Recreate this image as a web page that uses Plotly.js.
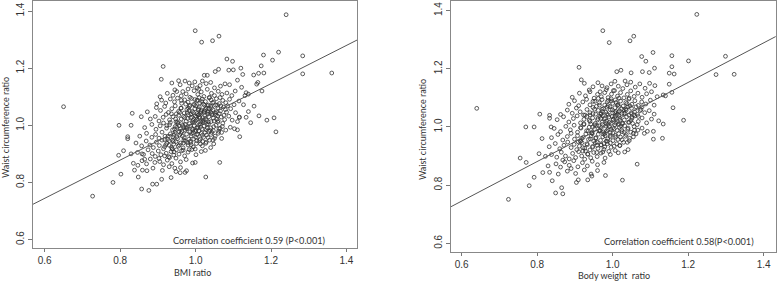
<!DOCTYPE html>
<html>
<head>
<meta charset="utf-8">
<script src="https://cdn.plot.ly/plotly-3.0.1.min.js"></script>
<style>html,body{margin:0;padding:0;background:#fff;}#chart{width:777px;height:281px;}</style>
</head>
<body>
<div id="chart"></div>
<script>
// Panel A: BMI ratio vs waist circumference ratio  [x, y]
const bmiPoints = [
[1.240,1.387],[0.999,1.331],[1.016,1.291],[1.045,1.296],[1.062,1.312],[0.914,1.206],[0.909,1.161],[1.083,1.232],[1.098,1.224],
[1.220,1.256],[1.180,1.246],[1.204,1.228],[1.284,1.243],[1.284,1.180],[1.361,1.183],[1.174,1.208],[1.181,1.183],[1.167,1.182],
[1.154,1.176],[1.120,1.200],[1.125,1.178],[1.100,1.194],[1.088,1.193],[1.061,1.196],[1.052,1.188],[1.023,1.175],[1.031,1.175],
[0.650,1.065],[0.727,0.752],[0.781,0.800],[0.797,1.000],[0.829,1.000],[0.832,1.042],[0.856,1.030],[0.820,0.960],[0.820,0.953],
[0.796,0.895],[0.809,0.911],[0.802,0.829],[0.829,0.900],[0.835,0.867],[0.838,0.843],[0.847,0.860],[0.848,0.819],[0.857,0.777],
[0.876,0.772],[0.886,0.794],[0.859,0.843],[0.871,0.841],[0.865,0.881],[0.858,0.900],[1.213,0.977],[1.208,1.026],[1.189,1.018],
[1.155,1.067],[1.168,1.033],[1.146,1.009],[1.140,1.048],[1.134,1.028],[1.117,0.960],[1.111,0.984],[1.111,1.013],[1.127,1.072],
[1.140,1.109],[1.134,1.114],[1.162,1.144],[1.176,1.120],[1.165,1.150],[1.103,0.988],[1.116,1.029],[1.069,0.954],[1.064,0.870],
[1.027,0.819],[0.999,0.870],[0.972,0.835],[0.910,0.811],[0.935,0.817],[0.959,0.834],[0.897,0.794],
[0.937,1.148],[0.959,1.142],[0.972,1.155],[0.955,1.156],[0.983,1.148],[0.998,1.152],[1.012,1.139],[1.028,1.146],[1.040,1.150],
[1.050,1.131],[1.066,1.137],[1.078,1.145],[1.090,1.142],[1.111,1.158],[1.122,1.133],[1.018,1.155],[0.991,1.138],[1.004,1.131],
[0.945,1.124],[0.980,1.127],[0.966,1.118],
[0.906,1.100],[0.925,1.112],[0.940,1.105],[0.950,1.118],[0.962,1.103],[0.975,1.110],[0.985,1.098],[0.996,1.121],[1.006,1.108],
[1.015,1.117],[1.022,1.101],[1.031,1.126],[1.042,1.112],[1.050,1.104],[1.060,1.119],[1.070,1.108],[1.083,1.113],[1.096,1.104],
[1.105,1.120],[1.131,1.104],[1.008,1.126],[1.037,1.098],[1.065,1.097],
[0.897,1.075],[0.910,1.088],[0.921,1.078],[0.933,1.092],[0.944,1.082],[0.952,1.095],[0.963,1.077],[0.971,1.089],[0.980,1.081],
[0.989,1.094],[0.995,1.073],[1.003,1.086],[1.011,1.078],[1.018,1.092],[1.026,1.083],[1.034,1.071],[1.041,1.089],[1.048,1.080],
[1.055,1.093],[1.063,1.076],[1.072,1.087],[1.080,1.079],[1.090,1.091],[1.102,1.072],[1.115,1.085],[1.036,1.096],[1.009,1.097],
[0.985,1.070],[1.058,1.070],
[0.872,1.047],[0.896,1.062],[0.907,1.052],[0.918,1.066],[0.928,1.045],[0.937,1.058],[0.946,1.068],[0.955,1.049],[0.962,1.060],
[0.970,1.043],[0.977,1.056],[0.984,1.066],[0.991,1.048],[0.998,1.058],[1.004,1.041],[1.010,1.064],[1.016,1.052],[1.022,1.045],
[1.028,1.060],[1.034,1.049],[1.040,1.067],[1.046,1.055],[1.052,1.042],[1.059,1.061],[1.066,1.050],[1.074,1.064],[1.082,1.046],
[1.093,1.058],[1.106,1.044],[1.000,1.068],[1.013,1.043],[1.031,1.069],[0.988,1.040],[1.043,1.041],[1.025,1.055],[1.007,1.054],
[0.880,1.022],[0.893,1.031],[0.903,1.015],[0.914,1.028],[0.922,1.038],[0.931,1.019],[0.940,1.030],[0.948,1.012],[0.955,1.035],
[0.962,1.022],[0.968,1.031],[0.975,1.014],[0.981,1.037],[0.987,1.026],[0.993,1.017],[0.999,1.033],[1.004,1.021],[1.009,1.038],
[1.014,1.012],[1.019,1.027],[1.024,1.035],[1.029,1.018],[1.035,1.030],[1.041,1.013],[1.047,1.025],[1.053,1.036],[1.060,1.016],
[1.068,1.029],[1.077,1.020],[1.088,1.032],[1.097,1.018],[1.116,1.027],[0.996,1.010],[1.011,1.029],[1.032,1.039],[1.002,1.029],
[1.021,1.017],[0.979,1.024],[1.044,1.037],
[0.865,0.992],[0.884,1.003],[0.895,0.986],[0.906,0.998],[0.915,1.008],[0.923,0.990],[0.931,1.002],[0.939,0.984],[0.946,0.996],
[0.953,1.007],[0.960,0.988],[0.966,1.000],[0.972,0.983],[0.978,0.995],[0.984,1.006],[0.990,0.989],[0.996,0.999],[1.001,0.982],
[1.006,0.994],[1.012,1.005],[1.017,0.987],[1.023,0.998],[1.028,0.984],[1.034,1.004],[1.040,0.991],[1.047,0.981],[1.054,1.000],
[1.062,0.988],[1.071,0.996],[1.080,0.983],[1.092,0.993],[0.987,0.997],[1.008,1.000],[0.969,0.992],[1.020,1.009],[0.950,0.993],
[0.852,0.962],[0.870,0.972],[0.884,0.958],[0.894,0.968],[0.903,0.955],[0.911,0.976],[0.919,0.962],[0.926,0.951],[0.933,0.970],
[0.940,0.959],[0.946,0.975],[0.952,0.953],[0.958,0.966],[0.964,0.978],[0.970,0.956],[0.976,0.969],[0.982,0.951],[0.988,0.963],
[0.994,0.974],[1.000,0.958],[1.006,0.969],[1.012,0.952],[1.018,0.965],[1.025,0.975],[1.033,0.957],[1.041,0.968],[1.050,0.954],
[1.060,0.972],[1.035,0.979],[0.961,0.972],[0.998,0.979],[0.943,0.965],
[0.842,0.938],[0.857,0.928],[0.869,0.945],[0.879,0.931],[0.888,0.922],[0.896,0.941],[0.904,0.929],[0.911,0.948],[0.918,0.925],
[0.924,0.937],[0.930,0.946],[0.936,0.923],[0.942,0.934],[0.948,0.943],[0.954,0.927],[0.960,0.938],[0.967,0.921],[0.973,0.944],
[0.980,0.931],[0.987,0.940],[0.994,0.924],[1.002,0.936],[1.010,0.947],[1.018,0.928],[1.028,0.941],[1.040,0.922],[1.048,0.935],
[0.939,0.948],[0.921,0.932],
[0.846,0.905],[0.862,0.898],[0.874,0.914],[0.885,0.901],[0.893,0.891],[0.901,0.910],[0.908,0.897],[0.915,0.918],[0.922,0.902],
[0.929,0.890],[0.935,0.908],[0.942,0.896],[0.949,0.914],[0.956,0.899],[0.963,0.911],[0.971,0.893],[0.980,0.906],[0.990,0.915],
[1.001,0.897],[1.015,0.908],[1.026,0.912],[0.918,0.893],[0.938,0.917],
[0.858,0.876],[0.870,0.865],[0.880,0.882],[0.892,0.870],[0.903,0.884],[0.915,0.862],[0.925,0.878],[0.937,0.866],[0.948,0.885],
[0.960,0.872],[0.975,0.880],[0.992,0.868],[0.905,0.873],[0.931,0.887],
[0.887,0.850],[0.912,0.842],[0.930,0.855],[0.948,0.838],[0.960,0.852],[0.976,0.841],[0.945,0.850],
[0.952,1.012],[0.958,1.045],[0.965,0.962],[0.971,1.027],[0.977,0.988],[0.983,1.052],[0.986,0.944],[0.992,1.011],[0.997,1.072],
[1.003,0.967],[1.007,1.036],[1.013,0.993],[1.016,1.083],[1.021,0.958],[1.026,1.022],[1.031,0.991],[1.036,1.058],[1.043,0.975],
[1.049,1.015],[1.055,1.047],[1.061,0.979],[1.067,1.068],[0.938,0.918],[0.944,0.987],[0.949,1.040],[0.957,0.931],[0.963,1.006],
[0.969,0.948],[0.974,1.074],[0.979,0.939],[0.985,0.977],[0.990,1.028],[0.995,0.952],[1.000,1.015],[1.005,1.088],[1.009,0.980],
[1.014,1.048],[1.019,0.943],[1.024,1.070],[1.030,1.003],[1.037,0.948],[1.042,1.061],[1.048,0.995],[1.056,1.021],[1.063,1.041],
[1.072,1.007],[1.079,1.055],[0.927,0.962],[0.933,1.010],[0.941,0.943],[0.947,1.022],[0.955,0.978],[0.961,1.060],[0.967,0.913],
[0.973,1.003],[0.978,1.043],[0.983,0.915],[0.989,0.971],[0.994,1.044],[0.999,0.917],[1.004,0.991],[1.010,1.025],[1.015,0.972],
[1.021,1.074],[1.027,0.937],[1.033,1.045],[1.039,0.982],[1.045,1.079],[1.052,0.962],[1.058,1.033],[1.065,0.990],[1.075,1.035],
[0.918,0.950],[0.924,0.999],[0.930,0.930],[0.936,1.040],[0.943,0.907],[0.950,0.960],[0.956,0.998],[0.962,1.087],[0.968,0.938],
[0.975,0.990],[0.981,1.060],[0.988,0.932],[0.993,0.985],[0.998,1.090],[1.003,0.946],[1.008,1.058],[1.013,0.935],[1.018,1.012],
[1.023,1.050],[1.029,0.966],[1.034,1.012],[1.040,1.045],[1.046,0.948],[1.053,1.071],[1.059,1.011],[1.069,0.975],[1.085,1.068]
];

// Panel B: body weight ratio vs waist circumference ratio  [x, y]
const bwPoints = [
[1.223,1.387],[0.974,1.331],[0.991,1.290],[1.046,1.296],[1.056,1.312],[0.911,1.205],[0.917,1.162],[1.077,1.242],[1.088,1.226],
[1.107,1.256],[1.157,1.245],[1.201,1.227],[1.299,1.243],[1.274,1.180],[1.322,1.181],[1.157,1.207],[1.163,1.182],[1.150,1.185],
[1.111,1.202],[1.097,1.187],[1.079,1.190],[1.049,1.186],[1.022,1.195],[1.011,1.190],
[0.640,1.064],[0.724,0.751],[0.779,0.798],[0.770,1.000],[0.792,1.000],[0.837,1.000],[0.807,1.044],[0.833,1.040],[0.833,1.030],
[0.813,0.960],[0.755,0.893],[0.805,0.908],[0.822,0.899],[0.771,0.878],[0.792,0.827],[0.815,0.843],[0.829,0.866],[0.833,0.844],
[0.840,0.815],[0.849,0.773],[0.865,0.791],[0.868,0.770],[0.856,0.838],[1.188,1.023],[1.160,1.066],[1.134,1.110],[1.140,1.107],
[1.157,1.119],[1.150,1.147],[1.134,1.010],[1.132,0.961],[1.108,0.958],[1.108,0.985],[1.084,0.978],[1.065,0.872],[1.026,0.817],
[0.981,0.833],[0.934,0.818],[0.904,0.809],[0.945,0.831],[0.909,0.818],
[0.925,1.150],[0.948,1.138],[0.961,1.152],[0.972,1.141],[0.985,1.135],[0.996,1.148],[1.006,1.157],[1.015,1.140],[1.027,1.132],
[1.038,1.145],[1.048,1.154],[1.060,1.137],[1.072,1.148],[1.086,1.133],[1.098,1.150],[1.112,1.142],[0.938,1.127],[0.967,1.121],
[1.002,1.125],[1.033,1.158],
[0.893,1.102],[0.912,1.116],[0.928,1.107],[0.940,1.121],[0.951,1.099],[0.960,1.112],[0.970,1.104],[0.979,1.118],[0.988,1.101],
[0.997,1.113],[1.005,1.125],[1.013,1.106],[1.021,1.118],[1.030,1.100],[1.039,1.112],[1.048,1.124],[1.057,1.105],[1.067,1.116],
[1.078,1.102],[1.090,1.114],[1.103,1.121],[1.118,1.104],[0.983,1.128],[1.044,1.099],
[0.884,1.078],[0.899,1.090],[0.910,1.073],[0.921,1.086],[0.931,1.095],[0.940,1.076],[0.948,1.088],[0.957,1.071],[0.965,1.083],
[0.972,1.094],[0.979,1.075],[0.986,1.087],[0.993,1.070],[1.000,1.081],[1.007,1.093],[1.014,1.077],[1.021,1.089],[1.028,1.072],
[1.035,1.084],[1.043,1.096],[1.051,1.078],[1.059,1.090],[1.068,1.074],[1.077,1.086],[1.088,1.079],[1.100,1.092],[1.110,1.075],
[0.996,1.097],[1.017,1.099],[0.962,1.098],
[0.862,1.043],[0.880,1.058],[0.893,1.047],[0.904,1.065],[0.914,1.052],[0.923,1.041],[0.932,1.060],[0.940,1.049],[0.948,1.067],
[0.955,1.044],[0.962,1.057],[0.969,1.046],[0.976,1.063],[0.982,1.051],[0.988,1.041],[0.994,1.059],[1.000,1.048],[1.006,1.066],
[1.012,1.043],[1.018,1.055],[1.024,1.062],[1.030,1.046],[1.036,1.058],[1.043,1.041],[1.050,1.064],[1.058,1.052],[1.066,1.043],
[1.075,1.060],[1.085,1.049],[1.097,1.056],[1.110,1.044],[0.985,1.068],[1.009,1.053],[1.040,1.069],[0.973,1.039],
[0.853,1.025],[0.870,1.035],[0.884,1.017],[0.896,1.029],[0.906,1.038],[0.915,1.014],[0.924,1.026],[0.932,1.036],[0.940,1.019],
[0.947,1.031],[0.954,1.012],[0.960,1.024],[0.966,1.037],[0.972,1.016],[0.978,1.028],[0.984,1.020],[0.990,1.034],[0.996,1.013],
[1.002,1.026],[1.008,1.038],[1.013,1.018],[1.019,1.030],[1.025,1.011],[1.031,1.024],[1.037,1.035],[1.044,1.016],[1.051,1.029],
[1.059,1.038],[1.068,1.019],[1.078,1.031],[1.090,1.014],[1.103,1.027],[1.122,1.021],[0.987,1.008],[1.005,1.032],[0.969,1.030],
[1.016,1.039],
[0.845,0.995],[0.862,0.984],[0.876,1.002],[0.888,0.990],[0.898,1.006],[0.907,0.982],[0.916,0.996],[0.924,1.008],[0.931,0.987],
[0.938,0.999],[0.945,0.981],[0.952,0.993],[0.958,1.005],[0.964,0.986],[0.970,0.998],[0.976,0.983],[0.982,1.003],[0.988,0.991],
[0.994,0.980],[1.000,0.997],[1.006,1.007],[1.012,0.988],[1.018,0.999],[1.025,0.984],[1.032,1.004],[1.040,0.992],[1.048,0.982],
[1.057,1.001],[1.067,0.989],[1.078,0.996],[1.092,0.985],[0.973,1.009],[0.991,1.001],[1.015,1.009],
[0.838,0.963],[0.855,0.974],[0.868,0.955],[0.880,0.967],[0.890,0.978],[0.899,0.958],[0.907,0.970],[0.915,0.952],[0.922,0.964],
[0.929,0.976],[0.936,0.957],[0.943,0.969],[0.950,0.951],[0.956,0.963],[0.962,0.975],[0.968,0.954],[0.974,0.966],[0.980,0.978],
[0.987,0.959],[0.994,0.971],[1.001,0.953],[1.008,0.965],[1.016,0.977],[1.025,0.956],[1.034,0.968],[1.044,0.953],[1.055,0.966],
[0.945,0.979],[0.983,0.951],
[0.832,0.932],[0.848,0.943],[0.860,0.925],[0.871,0.937],[0.881,0.948],[0.890,0.929],[0.898,0.940],[0.905,0.922],[0.912,0.934],
[0.919,0.946],[0.926,0.927],[0.933,0.939],[0.940,0.921],[0.947,0.933],[0.954,0.945],[0.961,0.926],[0.969,0.938],[0.977,0.923],
[0.986,0.942],[0.996,0.930],[1.007,0.919],[1.019,0.936],[1.032,0.914],[1.041,0.922],[0.915,0.950],
[0.838,0.905],[0.852,0.896],[0.864,0.913],[0.875,0.900],[0.885,0.890],[0.894,0.909],[0.902,0.895],[0.910,0.915],[0.918,0.900],
[0.926,0.889],[0.934,0.907],[0.942,0.894],[0.950,0.912],[0.959,0.898],[0.969,0.910],[0.980,0.893],[0.994,0.905],[1.015,0.911],
[0.921,0.917],
[0.850,0.873],[0.862,0.862],[0.873,0.880],[0.885,0.868],[0.897,0.884],[0.908,0.863],[0.920,0.877],[0.933,0.866],[0.946,0.882],
[0.960,0.870],[0.977,0.878],[0.868,0.886],
[0.880,0.848],[0.902,0.840],[0.925,0.852],[0.943,0.838],[0.960,0.850],[0.890,0.857],
[0.942,1.010],[0.948,1.046],[0.955,0.961],[0.961,1.029],[0.967,0.987],[0.973,1.053],[0.977,0.943],[0.983,1.012],[0.988,1.073],
[0.994,0.966],[0.999,1.036],[1.004,0.994],[1.009,1.084],[1.014,0.957],[1.019,1.023],[1.024,0.990],[1.030,1.059],[1.036,0.974],
[1.042,1.016],[1.049,1.048],[1.055,0.978],[1.062,1.069],[0.928,0.917],[0.935,0.986],[0.940,1.041],[0.947,0.930],[0.953,1.007],
[0.959,0.947],[0.965,1.075],[0.970,0.938],[0.976,0.976],[0.981,1.029],[0.986,0.951],[0.991,1.016],[0.996,1.089],[1.001,0.979],
[1.006,1.049],[1.011,0.942],[1.016,1.071],[1.022,1.004],[1.029,0.947],[1.035,1.062],[1.041,0.996],[1.048,1.022],[1.056,1.042],
[1.065,1.008],[1.073,1.056],[0.918,0.961],[0.924,1.011],[0.932,0.942],[0.938,1.023],[0.946,0.977],[0.952,1.061],[0.958,0.912],
[0.964,1.004],[0.969,1.044],[0.974,0.914],[0.980,0.970],[0.985,1.045],[0.990,0.916],[0.995,0.992],[1.001,1.026],[1.007,0.971],
[1.013,1.075],[1.019,0.936],[1.025,1.046],[1.031,0.981],[1.038,1.080],[1.045,0.961],[1.051,1.034],[1.058,0.989],[1.068,1.036],
[0.909,0.949],[0.915,0.998],[0.921,0.929],[0.927,1.041],[0.934,0.906],[0.941,0.959],[0.947,0.999],[0.953,1.088],[0.959,0.937],
[0.966,0.989],[0.972,1.061],[0.979,0.931],[0.984,0.986],[0.989,1.091],[0.994,0.945],[0.999,1.059],[1.004,0.934],[1.009,1.013],
[1.015,1.051],[1.021,0.965],[1.027,1.013],[1.033,1.046],[1.039,0.947],[1.046,1.072],[1.053,1.012],[1.062,0.976],[1.078,1.069]
];

// Fitted regression lines: [intercept, slope]
const fitA = [0.343, 0.669];
const fitB = [0.337, 0.680];

const tickVals = [0.6, 0.8, 1.0, 1.2, 1.4];
const tickText = ['0.6', '0.8', '1.0', '1.2', '1.4'];
const xTitleA = 'BMI ratio';
const xTitleB = 'Body weight  ratio';
const yTitle = 'Waist circumference ratio';
const noteA = 'Correlation coefficient 0.59 (P<0.001)';
const noteB = 'Correlation coefficient 0.58(P<0.001)';

const rangeXA = [0.569, 1.428], rangeYA = [0.5695, 1.435];
const rangeXB = [0.5717, 1.432], rangeYB = [0.570, 1.433];

const markerStyle = {symbol: 'circle-open', size: 3.8, color: '#333', line: {width: 0.8, color: '#333'}};

function fitLine(fit, r) {
  const xs = [r[0] - 0.05, r[1] + 0.05];
  return {x: xs, y: xs.map(v => fit[0] + fit[1] * v)};
}
const lA = fitLine(fitA, rangeXA), lB = fitLine(fitB, rangeXB);

const traces = [
  {x: bmiPoints.map(p => p[0]), y: bmiPoints.map(p => p[1]), type: 'scatter', mode: 'markers', marker: markerStyle, xaxis: 'x', yaxis: 'y'},
  {x: lA.x, y: lA.y, type: 'scatter', mode: 'lines', line: {color: '#555', width: 1}, xaxis: 'x', yaxis: 'y'},
  {x: bwPoints.map(p => p[0]), y: bwPoints.map(p => p[1]), type: 'scatter', mode: 'markers', marker: markerStyle, xaxis: 'x2', yaxis: 'y2'},
  {x: lB.x, y: lB.y, type: 'scatter', mode: 'lines', line: {color: '#555', width: 1}, xaxis: 'x2', yaxis: 'y2'}
];

const tickFont = {family: 'Liberation Sans, Arial, sans-serif', size: 10, color: '#333'};
function xAxis(domain, range, anchor) {
  return {domain: domain, range: range, anchor: anchor, tickmode: 'array', tickvals: tickVals, ticktext: tickText,
    ticks: 'outside', ticklen: 3, tickcolor: '#777', tickwidth: 1, showline: true, mirror: true, linecolor: '#888', linewidth: 1,
    showgrid: false, zeroline: false, tickfont: tickFont};
}
function yAxis(domain, range, anchor) {
  return {domain: domain, range: range, anchor: anchor, tickmode: 'array', tickvals: tickVals, ticktext: tickText, tickangle: -90,
    ticks: 'outside', ticklen: 4, tickcolor: '#777', tickwidth: 1, showline: true, mirror: true, linecolor: '#888', linewidth: 1,
    showgrid: false, zeroline: false, tickfont: tickFont};
}

const titleFont = {family: 'Lato, sans-serif', size: 9, color: '#333'};
const noteFont = {family: 'Lato, sans-serif', size: 9.2, color: '#333'};

const layout = {
  width: 777, height: 281, margin: {l: 0, r: 0, t: 0, b: 0}, paper_bgcolor: '#fff', plot_bgcolor: '#fff', showlegend: false,
  xaxis: xAxis([0.0425, 0.4595], rangeXA, 'y'),
  yaxis: yAxis([0.1164, 0.9964], rangeYA, 'x'),
  xaxis2: xAxis([0.5804, 0.9983], rangeXB, 'y2'),
  yaxis2: yAxis([0.1032, 0.9964], rangeYB, 'x2'),
  annotations: [
    {text: xTitleA, xref: 'paper', yref: 'paper', x: 192 / 777, y: 1 - 272 / 281, showarrow: false, font: titleFont, xanchor: 'center', yanchor: 'middle'},
    {text: xTitleB, xref: 'paper', yref: 'paper', x: 614 / 777, y: 1 - 275.5 / 281, showarrow: false, font: titleFont, xanchor: 'center', yanchor: 'middle'},
    {text: yTitle, xref: 'paper', yref: 'paper', x: 5 / 777, y: 1 - 128 / 281, showarrow: false, font: titleFont, textangle: -90, xanchor: 'center', yanchor: 'middle'},
    {text: yTitle, xref: 'paper', yref: 'paper', x: 422 / 777, y: 1 - 130 / 281, showarrow: false, font: titleFont, textangle: -90, xanchor: 'center', yanchor: 'middle'},
    {text: noteA, xref: 'paper', yref: 'paper', x: 328 / 777, y: 1 - 240.7 / 281, showarrow: false, font: noteFont, xanchor: 'right', yanchor: 'middle'},
    {text: noteB, xref: 'paper', yref: 'paper', x: 755.7 / 777, y: 1 - 241 / 281, showarrow: false, font: noteFont, xanchor: 'right', yanchor: 'middle'}
  ]
};

Plotly.newPlot('chart', traces, layout, {staticPlot: true, displayModeBar: false});
</script>
</body>
</html>
